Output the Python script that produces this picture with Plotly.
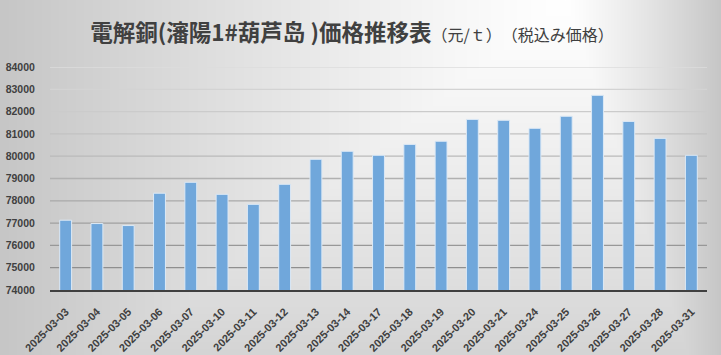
import base64, struct, zlib
import numpy as np
import plotly.graph_objects as go

# ---- data ----
dates = ["2025-03-03", "2025-03-04", "2025-03-05", "2025-03-06", "2025-03-07",
         "2025-03-10", "2025-03-11", "2025-03-12", "2025-03-13", "2025-03-14",
         "2025-03-17", "2025-03-18", "2025-03-19", "2025-03-20", "2025-03-21",
         "2025-03-24", "2025-03-25", "2025-03-26", "2025-03-27", "2025-03-28",
         "2025-03-31"]
prices = [77130, 76980, 76890, 78340, 78830, 78290, 77840, 78740, 79860, 80220,
          80040, 80530, 80670, 81650, 81610, 81250, 81790, 82730, 81560, 80800,
          80040]
y_ticks = [74000, 75000, 76000, 77000, 78000, 79000, 80000, 81000, 82000, 83000, 84000]

title_main = "電解銅(瀋陽1#葫芦岛 )価格推移表"
title_sub = "（元/ｔ）　（税込み価格）"

# ---- page geometry ----
W, H = 721, 355
ML, MR, MT, MB = 50, 14, 67, 65
PW, PH = W - ML - MR, H - MT - MB


def gradient_png(w, h):
    cx, cy = 565.0, 0.0
    xs = np.arange(w)[None, :].astype(float)
    ys = np.arange(h)[:, None].astype(float)
    tx = np.where(xs < cx, (cx - xs) / cx, (xs - cx) / (w - cx))
    ty = (ys - cy) / 450.0
    t = np.clip(np.maximum(tx, ty), 0, 1)
    v = (255 - 57 * t ** 1.2).astype(np.uint8)
    img = np.repeat(v[:, :, None], 3, axis=2)
    raw = b"".join(b"\x00" + img[r].tobytes() for r in range(h))

    def chunk(tag, data):
        c = struct.pack(">I", len(data)) + tag + data
        return c + struct.pack(">I", zlib.crc32(tag + data) & 0xffffffff)

    png = b"\x89PNG\r\n\x1a\n"
    png += chunk(b"IHDR", struct.pack(">IIBBBBB", w, h, 8, 2, 0, 0, 0))
    png += chunk(b"IDAT", zlib.compress(raw, 9))
    png += chunk(b"IEND", b"")
    return "data:image/png;base64," + base64.b64encode(png).decode()


fig = go.Figure()
fig.add_trace(go.Bar(
    x=dates, y=prices,
    marker=dict(color="#70a7db", line=dict(color="#dce9f6", width=1)),
    hoverinfo="x+y",
))

# gridlines, lighter towards the top
shapes = []
n = len(y_ticks)
for i, v in enumerate(y_ticks):
    if v == y_ticks[0]:
        continue
    g = int(135 + (220 - 135) * i / (n - 1))
    shapes.append(dict(type="line", xref="x domain", yref="y", x0=0, x1=1, y0=v, y1=v,
                       line=dict(color=f"rgb({g},{g},{g})", width=1.3), layer="below"))

tick_font = dict(family="Liberation Sans, Arial, sans-serif", size=10.5, color="#404040", weight="bold")

fig.update_layout(
    width=W, height=H,
    margin=dict(l=ML, r=MR, t=MT, b=MB, pad=0),
    paper_bgcolor="#d8d8d8",
    plot_bgcolor="#f2f2f2",
    bargap=0.62,
    showlegend=False,
    shapes=shapes,
    images=[dict(source=gradient_png(W, H), xref="paper", yref="paper",
                 x=-ML / PW, y=1 + MT / PH, sizex=W / PW, sizey=H / PH,
                 xanchor="left", yanchor="top", sizing="stretch", layer="below")],
    title=dict(
        text=f"<b>{title_main}</b><span style='font-size:16px'>{title_sub}</span>",
        font=dict(family="Noto Sans CJK JP, sans-serif", size=22.5, color="#404040"),
        x=352 / W, xref="container", xanchor="center",
        y=1 - 33 / H, yref="container", yanchor="middle",
    ),
    xaxis=dict(
        type="category", tickangle=-45, tickfont=dict(tick_font, size=11),
        showline=True, linecolor="#404040", linewidth=2,
        ticks="outside", ticklen=9, tickcolor="rgba(0,0,0,0)",
        showgrid=False, zeroline=False, automargin=False,
    ),
    yaxis=dict(
        range=[y_ticks[0], y_ticks[-1]], tickvals=y_ticks,
        ticktext=[str(v) for v in y_ticks],
        tickfont=tick_font, showgrid=False, zeroline=False, showline=False,
        ticks="outside", ticklen=12, tickcolor="rgba(0,0,0,0)", automargin=False,
    ),
)

fig.write_html("out.html", config={"displayModeBar": False},
               post_script="document.body.style.margin='0';")
